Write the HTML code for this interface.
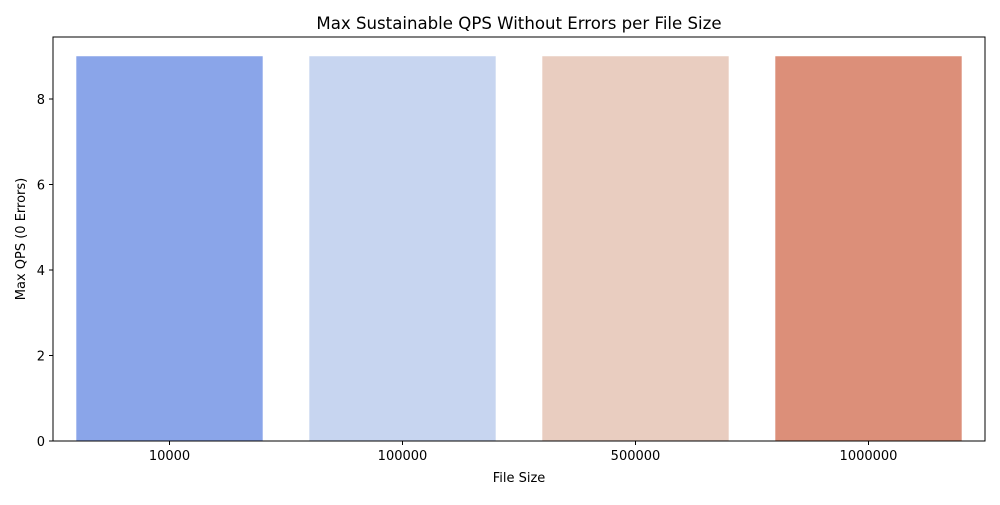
<!DOCTYPE html>
<html><head><meta charset="utf-8"><style>
body{margin:0;background:#fff;font-family:"Liberation Sans","DejaVu Sans",sans-serif}
</style></head><body>
<svg id="chart" width="1000" height="500" xmlns="http://www.w3.org/2000/svg" font-family="'DejaVu Sans','Liberation Sans',sans-serif">
<rect width="1000" height="500" fill="#fff"/>
<text x="519" y="29" text-anchor="middle" font-size="16.6">Max Sustainable QPS Without Errors per File Size</text>
<g id="bars"></g><g id="xt"></g><g id="yt"></g>
<rect x="53" y="37" width="932" height="404" fill="none" stroke="#000" stroke-width="1"/>
<text x="519" y="482" text-anchor="middle" font-size="13">File Size</text>
<text transform="translate(25,239) rotate(-90)" text-anchor="middle" font-size="13">Max QPS (0 Errors)</text>
</svg>
<script>
const categories=["10000","100000","500000","1000000"];
const values=[9,9,9,9];
const colors=["#8aa5e9","#c7d5f0","#e9cdc0","#dc8f79"];
const yTicks=[0,2,4,6,8];
const L=53,R=985,T=37,B=441,yMax=9.45;
const NS="http://www.w3.org/2000/svg";
const xs=i=>L+(i+0.5)*(R-L)/categories.length;
const ys=v=>B-v/yMax*(B-T);
const bw=0.8*(R-L)/categories.length;
function mk(t,a,p){const e=document.createElementNS(NS,t);for(const k in a)e.setAttribute(k,a[k]);document.getElementById(p).appendChild(e);return e;}
categories.forEach((c,i)=>{
 const r=mk("rect",{x:xs(i)-bw/2,y:ys(values[i]),width:bw,height:B-ys(values[i]),fill:colors[i]},"bars");
 
 
 const tk=mk("line",{x1:xs(i),x2:xs(i),y1:B,y2:B+4,stroke:"#000"},"xt");
 
 
 const t=mk("text",{x:xs(i),y:B+19,"text-anchor":"middle","font-size":"13"},"xt");t.textContent=c;
 
 
});
yTicks.forEach(v=>{
 const tk=mk("line",{x1:L-4,x2:L,y1:ys(v),y2:ys(v),stroke:"#000"},"yt");
 
 
 const t=mk("text",{x:L-8,y:ys(v)+5,"text-anchor":"end","font-size":"13"},"yt");t.textContent=v;
 
 
});
</script>
</body></html>
